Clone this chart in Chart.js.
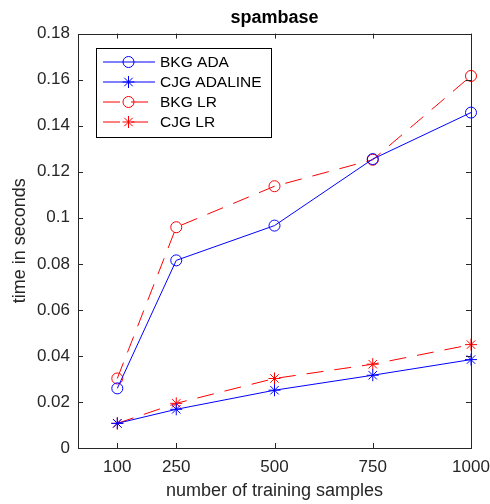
<!DOCTYPE html>
<html>
<head>
<meta charset="utf-8">
<script src="https://cdn.jsdelivr.net/npm/chart.js@4/dist/chart.umd.min.js"></script>
<style>
  html, body { margin: 0; padding: 0; background: #fff; }
  #wrap { width: 490px; height: 504px; }
</style>
</head>
<body>
<div id="wrap"><canvas id="timeChart" width="490" height="504"></canvas></div>
<script>
// training set sizes and timings (seconds)
const trainSizes = [100, 250, 500, 750, 1000];
const bkgAda = [0.0259, 0.0815, 0.0966, 0.1255, 0.1457];
const cjgAdaline = [0.0107, 0.0168, 0.0251, 0.0316, 0.0384];
const bkgLr = [0.0302, 0.0959, 0.1137, 0.1252, 0.1616];
const cjgLr = [0.0107, 0.0194, 0.0302, 0.0364, 0.0449];

const xTicks = [100, 250, 500, 750, 1000];
const yTickLabels = ["0", "0.02", "0.04", "0.06", "0.08", "0.1", "0.12", "0.14", "0.16", "0.18"];

const FONT = "'Liberation Sans', Arial, Helvetica, sans-serif";
const AXIS_COLOR = "#262626";

function pts(ys) {
  return trainSizes.map((x, i) => ({ x: x, y: ys[i] }));
}

function series(label, ys, color, style, dashed) {
  return {
    label: label,
    data: pts(ys),
    borderColor: color,
    borderWidth: 1,
    borderDash: dashed ? [17, 11] : [],
    pointStyle: style,
    pointRadius: style === "circle" ? 5.5 : 6,
    pointBorderColor: color,
    pointBackgroundColor: "rgba(0,0,0,0)",
    pointBorderWidth: 1,
    tension: 0,
    clip: false,
  };
}

// box around the plot area with inward tick marks on all four sides
const axesBox = {
  id: "axesBox",
  afterDatasetsDraw(chart) {
    const { ctx, chartArea: a, scales } = chart;
    ctx.save();
    ctx.strokeStyle = AXIS_COLOR;
    ctx.lineWidth = 1;
    ctx.strokeRect(Math.round(a.left) + 0.5, Math.round(a.top) + 0.5,
      Math.round(a.right - a.left), Math.round(a.bottom - a.top));
    const len = 5;
    ctx.beginPath();
    scales.x.ticks.forEach(t => {
      const px = Math.round(scales.x.getPixelForValue(t.value)) + 0.5;
      ctx.moveTo(px, a.bottom); ctx.lineTo(px, a.bottom - len);
      ctx.moveTo(px, a.top); ctx.lineTo(px, a.top + len);
    });
    scales.y.ticks.forEach(t => {
      const py = Math.round(scales.y.getPixelForValue(t.value)) + 0.5;
      ctx.moveTo(a.left, py); ctx.lineTo(a.left + len, py);
      ctx.moveTo(a.right, py); ctx.lineTo(a.right - len, py);
    });
    ctx.stroke();
    ctx.restore();
  },
};

// legend drawn inside the axes, upper left
const boxLegend = {
  id: "boxLegend",
  afterDraw(chart) {
    const { ctx } = chart;
    const x0 = 96, y0 = 48, w = 175, h = 89;
    ctx.save();
    ctx.fillStyle = "#fff";
    ctx.fillRect(x0, y0, w, h);
    ctx.strokeStyle = "#000";
    ctx.lineWidth = 1;
    ctx.strokeRect(x0 + 0.5, y0 + 0.5, w, h);
    ctx.font = "15.5px " + FONT;
    ctx.textBaseline = "middle";
    chart.data.datasets.forEach((ds, i) => {
      const y = 62 + i * 20;
      ctx.strokeStyle = ds.borderColor;
      ctx.lineWidth = 1;
      ctx.setLineDash(ds.borderDash);
      ctx.beginPath();
      ctx.moveTo(103, y); ctx.lineTo(155, y);
      ctx.stroke();
      ctx.setLineDash([]);
      ctx.fillStyle = "rgba(0,0,0,0)";
      Chart.helpers.drawPoint(ctx, {
        pointStyle: ds.pointStyle,
        radius: ds.pointRadius,
        borderWidth: 1,
        rotation: 0,
      }, 128.5, y);
      ctx.fillStyle = "#000";
      ctx.fillText(ds.label, 160, y + 1);
    });
    ctx.restore();
  },
};

new Chart(document.getElementById("timeChart"), {
  type: "line",
  data: {
    datasets: [
      series("BKG ADA", bkgAda, "rgb(0,0,255)", "circle", false),
      series("CJG ADALINE", cjgAdaline, "rgb(0,0,255)", "star", false),
      series("BKG LR", bkgLr, "rgb(255,0,0)", "circle", true),
      series("CJG LR", cjgLr, "rgb(255,0,0)", "star", true),
    ],
  },
  plugins: [axesBox, boxLegend],
  options: {
    responsive: false,
    animation: false,
    layout: { padding: { top: 0, right: 19, bottom: 0, left: 0 } },
    plugins: {
      legend: { display: false },
      tooltip: { enabled: false },
      title: {
        display: true,
        text: "spambase",
        fullSize: false,
        color: "#000",
        font: { family: FONT, size: 18, weight: "bold", lineHeight: 1.2 },
        padding: { top: 7, bottom: 5 },
      },
    },
    scales: {
      x: {
        type: "linear",
        min: 0,
        max: 1000,
        afterBuildTicks: s => { s.ticks = xTicks.map(v => ({ value: v })); },
        afterFit: s => { s.height = 56; s.paddingLeft = 0; s.paddingRight = 0; },
        grid: { display: false, drawTicks: false },
        border: { display: false },
        ticks: {
          color: AXIS_COLOR,
          padding: 9,
          maxRotation: 0,
          autoSkip: false,
          font: { family: FONT, size: 17 },
          callback: v => String(v),
        },
        title: {
          display: true,
          text: "number of training samples",
          color: AXIS_COLOR,
          font: { family: FONT, size: 18, lineHeight: 1.2 },
          padding: { top: 0, bottom: 2 },
        },
      },
      y: {
        min: 0,
        max: 0.18,
        afterBuildTicks: s => { s.ticks = yTickLabels.map(l => ({ value: parseFloat(l) })); },
        afterFit: s => { s.width = 78; s.paddingTop = 0; s.paddingBottom = 0; },
        grid: { display: false, drawTicks: false },
        border: { display: false },
        ticks: {
          color: AXIS_COLOR,
          padding: 8,
          autoSkip: false,
          font: { family: FONT, size: 17 },
          callback: (v, i) => yTickLabels[i],
        },
        title: {
          display: true,
          text: "time in seconds",
          color: AXIS_COLOR,
          font: { family: FONT, size: 18, lineHeight: 1.2 },
          padding: { top: 9, bottom: 0 },
        },
      },
    },
  },
});
</script>
</body>
</html>
